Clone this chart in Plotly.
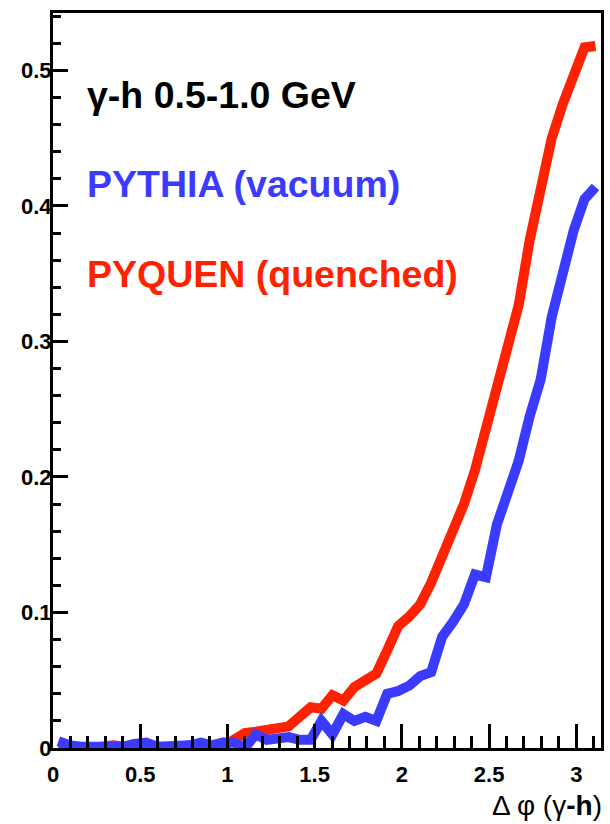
import math
import plotly.graph_objects as go

# Delta-phi bin centres (50 bins over 0..pi)
dphi = [0.031, 0.094, 0.157, 0.220, 0.283, 0.346, 0.408, 0.471, 0.534, 0.597,
        0.660, 0.723, 0.785, 0.848, 0.911, 0.974, 1.037, 1.100, 1.162, 1.225,
        1.288, 1.351, 1.414, 1.477, 1.539, 1.602, 1.665, 1.728, 1.791, 1.854,
        1.916, 1.979, 2.042, 2.105, 2.168, 2.231, 2.293, 2.356, 2.419, 2.482,
        2.545, 2.608, 2.670, 2.733, 2.796, 2.859, 2.922, 2.985, 3.047, 3.110]

# PYQUEN (quenched) gamma-hadron correlation
pyquen = [0.002, 0.001, 0.001, 0.000, 0.001, 0.002, 0.001, 0.003, 0.002, 0.001,
          0.000, 0.001, 0.002, 0.003, 0.001, 0.001, 0.006, 0.011, 0.012, 0.013,
          0.015, 0.016, 0.023, 0.030, 0.029, 0.039, 0.035, 0.045, 0.050, 0.055,
          0.072, 0.090, 0.097, 0.106, 0.122, 0.140, 0.158, 0.180, 0.205, 0.237,
          0.270, 0.300, 0.327, 0.375, 0.410, 0.450, 0.475, 0.497, 0.517, 0.518]

# PYTHIA (vacuum) gamma-hadron correlation
pythia = [0.005, 0.002, 0.001, 0.001, 0.001, 0.002, 0.001, 0.003, 0.004, 0.001,
          0.001, 0.002, 0.002, 0.004, 0.002, 0.004, 0.004, 0.000, 0.010, 0.006,
          0.007, 0.008, 0.006, 0.006, 0.020, 0.010, 0.025, 0.020, 0.023, 0.020,
          0.040, 0.042, 0.046, 0.053, 0.056, 0.082, 0.093, 0.106, 0.128, 0.126,
          0.165, 0.188, 0.212, 0.245, 0.272, 0.318, 0.350, 0.382, 0.405, 0.414]

BLUE = "#3b3bff"
RED = "#ff2200"
FONT = "Liberation Sans"

fig = go.Figure()
fig.add_trace(go.Scatter(x=dphi, y=pyquen, mode="lines",
                         line=dict(color=RED, width=10), name="PYQUEN"))
fig.add_trace(go.Scatter(x=dphi, y=pythia, mode="lines",
                         line=dict(color=BLUE, width=10), name="PYTHIA"))

fig.update_layout(
    width=610, height=824,
    margin=dict(l=53, r=6, t=13, b=76),
    plot_bgcolor="white", paper_bgcolor="white",
    showlegend=False,
    xaxis=dict(
        range=[0, math.pi], showgrid=False, zeroline=False,
        showline=True, linecolor="black", linewidth=3, mirror=True,
        ticks="inside", ticklen=24, tickwidth=3, tickcolor="black",
        dtick=0.5, tick0=0, ticklabelstandoff=5,
        minor=dict(ticks="inside", ticklen=12, tickwidth=3, tickcolor="black",
                   dtick=0.1, showgrid=False),
        tickfont=dict(family=FONT, size=22, color="black", weight="bold"),
    ),
    yaxis=dict(
        range=[0, 0.5424], showgrid=False, zeroline=False,
        showline=True, linecolor="black", linewidth=3, mirror=True,
        ticks="inside", ticklen=15, tickwidth=3, tickcolor="black",
        dtick=0.1, tick0=0, ticklabelstandoff=-6,
        minor=dict(ticks="inside", ticklen=8, tickwidth=3, tickcolor="black",
                   dtick=0.02, showgrid=False),
        tickfont=dict(family=FONT, size=22, color="black", weight="bold"),
    ),
)

ann_font = dict(family=FONT, size=37.5, weight="bold")
fig.add_annotation(text="γ-h 0.5-1.0 GeV", xref="paper", yref="paper",
                   x=(85 - 53) / 551, y=(748 - 95) / 735,
                   xanchor="left", yanchor="middle", showarrow=False,
                   font=dict(ann_font, color="black"))
fig.add_annotation(text="PYTHIA (vacuum)", xref="paper", yref="paper",
                   x=(85 - 53) / 551, y=(748 - 184) / 735,
                   xanchor="left", yanchor="middle", showarrow=False,
                   font=dict(ann_font, color=BLUE))
fig.add_annotation(text="PYQUEN (quenched)", xref="paper", yref="paper",
                   x=(85 - 53) / 551, y=(748 - 274) / 735,
                   xanchor="left", yanchor="middle", showarrow=False,
                   font=dict(ann_font, color=RED))

# axis title at the lower right
fig.add_annotation(text="Δ φ (γ<b>-h</b>)", xref="paper", yref="paper",
                   x=1.0, y=-57 / 735, xanchor="right", yanchor="middle",
                   xshift=3, showarrow=False,
                   font=dict(family=FONT, size=28, color="black"))

fig.write_html("out.html")
